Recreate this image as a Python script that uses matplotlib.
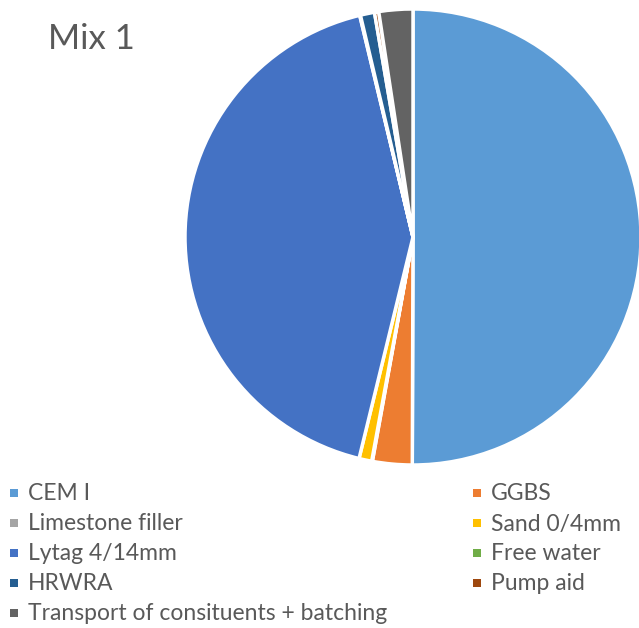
import matplotlib.pyplot as plt
from matplotlib.patches import Rectangle

# shares of each constituent (%)
labels = ["CEM I", "GGBS", "Limestone filler", "Sand 0/4mm", "Lytag 4/14mm",
          "Free water", "HRWRA", "Pump aid", "Transport of consituents + batching"]
values = [50.0, 2.8, 0.05, 0.9, 42.4, 0.05, 1.0, 0.3, 2.4]
colors = ["#5B9BD5", "#ED7D31", "#A5A5A5", "#FFC000", "#4472C4",
          "#70AD47", "#255E91", "#9E480E", "#636363"]

text_col = "#595959"
plt.rcParams["font.family"] = ["Lato", "DejaVu Sans"]

W, H = 639, 628
fig = plt.figure(figsize=(W / 100, H / 100), dpi=100)

# pie centre (413, 237) px, radius 228 px
cx, cy, r = 413, 237, 228
ax = fig.add_axes([(cx - r) / W, (H - cy - r) / H, 2 * r / W, 2 * r / H])
ax.pie(values, colors=colors, startangle=90, counterclock=False, radius=1,
       wedgeprops={"edgecolor": "white", "linewidth": 2.5})
ax.set_xlim(-1, 1)
ax.set_ylim(-1, 1)
ax.set_aspect("equal")
ax.axis("off")

fig.text(48 / W, 1 - 39 / H, "Mix 1", fontsize=25, color=text_col,
         va="center", ha="left")

# legend, two columns filled row by row
col_x = [10, 473]
row_y = [494, 524, 554, 584, 614]
for i, (lab, c) in enumerate(zip(labels, colors)):
    mx = col_x[i % 2]
    my = row_y[i // 2]
    fig.patches.append(Rectangle((mx / W, 1 - (my + 3) / H), 8 / W, 8 / H,
                                 transform=fig.transFigure, facecolor=c,
                                 edgecolor="none"))
    fig.text((mx + 18) / W, 1 - my / H, lab, fontsize=16.5, color=text_col,
             va="center", ha="left")

fig.savefig("out.png", dpi=100)
